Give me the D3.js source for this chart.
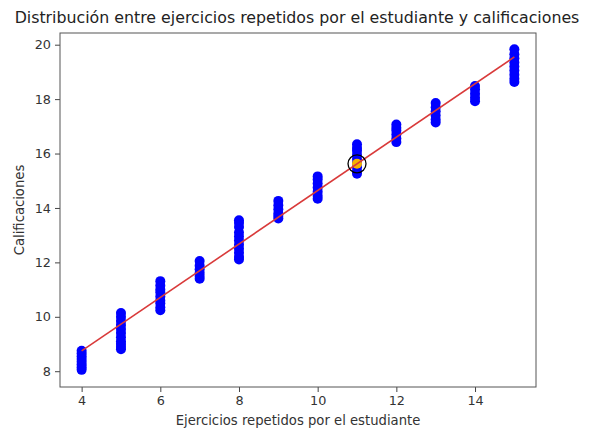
<!DOCTYPE html>
<html>
<head>
<meta charset="utf-8">
<script src="https://cdn.jsdelivr.net/npm/d3@7.9.0/dist/d3.min.js"></script>
<style>
  body { margin: 0; background: #fff; }
  svg { font-family: 'DejaVu Sans', sans-serif; }
</style>
</head>
<body>
<svg id="chart" width="591" height="430"></svg>
<script>
// ejercicios repetidos (x) and calificaciones (y) per column
const ejercicios = [4, 5, 6, 7, 8, 9, 10, 11, 12, 13, 14, 15];
const calificaciones = [
  [8.05, 8.15, 8.25, 8.35, 8.45, 8.55, 8.65, 8.75],
  [8.81, 8.9, 9.0, 9.1, 9.25, 9.4, 9.55, 9.7, 9.85, 10.0, 10.14],
  [10.24, 10.35, 10.5, 10.6, 10.75, 10.9, 11.0, 11.15, 11.31],
  [11.4, 11.5, 11.62, 11.75, 11.88, 12.05],
  [12.11, 12.2, 12.35, 12.5, 12.65, 12.8, 12.95, 13.1, 13.3, 13.45, 13.55],
  [13.61, 13.7, 13.8, 13.95, 14.1, 14.26],
  [14.34, 14.45, 14.6, 14.75, 14.9, 15.05, 15.16],
  [15.26, 15.35, 15.5, 15.65, 15.8, 15.95, 16.1, 16.2, 16.34],
  [16.42, 16.55, 16.7, 16.85, 16.95, 17.07],
  [17.14, 17.25, 17.4, 17.55, 17.7, 17.86],
  [17.92, 18.05, 18.2, 18.35, 18.48],
  [18.63, 18.75, 18.9, 19.05, 19.2, 19.35, 19.5, 19.65, 19.83]
];
// regression line and the predicted point
const intercepto = 4.82;
const pendiente = 0.982;
const prediccionX = 11;
const xTicks = [4, 6, 8, 10, 12, 14];
const yTicks = [8, 10, 12, 14, 16, 18, 20];

const margin = { top: 33, right: 55, bottom: 43, left: 60 };
const width = 591, height = 430;
const svg = d3.select('#chart');

const x = d3.scaleLinear().domain([3.45, 15.55]).range([margin.left, width - margin.right]);
const y = d3.scaleLinear().domain([7.42, 20.43]).range([height - margin.bottom, margin.top]);

let points = [];
ejercicios.forEach((e, i) => {
  calificaciones[i].forEach(c => points.push({ e, c }));
});

svg.append('g')
  .selectAll('circle')
  .data(points)
  .join('circle')
  .attr('cx', d => x(d.e))
  .attr('cy', d => y(d.c))
  .attr('r', 5)
  .attr('fill', '#0000ff');

// predicted point
let prediccionY = intercepto + pendiente * prediccionX;
svg.append('circle')
  .attr('cx', x(prediccionX))
  .attr('cy', y(prediccionY))
  .attr('r', 5)
  .attr('fill', '#f5b400');

svg.append('line')
  .attr('x1', x(4)).attr('y1', y(intercepto + pendiente * 4))
  .attr('x2', x(15)).attr('y2', y(intercepto + pendiente * 15))
  .attr('stroke', '#d93a3a')
  .attr('stroke-width', 1.6);

svg.append('circle')
  .attr('cx', x(prediccionX))
  .attr('cy', y(prediccionY))
  .attr('r', 9)
  .attr('fill', 'none')
  .attr('stroke', '#000')
  .attr('stroke-width', 1.3);

// axes
let xAxis = d3.axisBottom(x).tickValues(xTicks).tickSize(5).tickPadding(4);
let yAxis = d3.axisLeft(y).tickValues(yTicks).tickSize(5).tickPadding(4);

let gx = svg.append('g')
  .attr('transform', `translate(0,${height - margin.bottom})`)
  .call(xAxis);
let gy = svg.append('g')
  .attr('transform', `translate(${margin.left},0)`)
  .call(yAxis);

[gx, gy].forEach(g => {
  g.select('.domain').remove();
  g.selectAll('line').attr('stroke', '#444');
  g.selectAll('text').attr('font-size', 12.8).attr('fill', '#333')
    .attr('font-family', 'DejaVu Sans');
});

svg.append('rect')
  .attr('x', margin.left)
  .attr('y', margin.top)
  .attr('width', width - margin.left - margin.right)
  .attr('height', height - margin.top - margin.bottom)
  .attr('fill', 'none')
  .attr('stroke', '#555')
  .attr('stroke-width', 1);

svg.append('text')
  .attr('x', 297)
  .attr('y', 23)
  .attr('text-anchor', 'middle')
  .attr('font-size', 15.8)
  .attr('fill', '#222')
  .text('Distribución entre ejercicios repetidos por el estudiante y calificaciones');

svg.append('text')
  .attr('x', (margin.left + width - margin.right) / 2)
  .attr('y', 425)
  .attr('text-anchor', 'middle')
  .attr('font-size', 13.2)
  .attr('fill', '#333')
  .text('Ejercicios repetidos por el estudiante');

svg.append('text')
  .attr('transform', `translate(24,${(margin.top + height - margin.bottom) / 2}) rotate(-90)`)
  .attr('text-anchor', 'middle')
  .attr('font-size', 13.2)
  .attr('fill', '#333')
  .text('Calificaciones');
</script>
</body>
</html>
